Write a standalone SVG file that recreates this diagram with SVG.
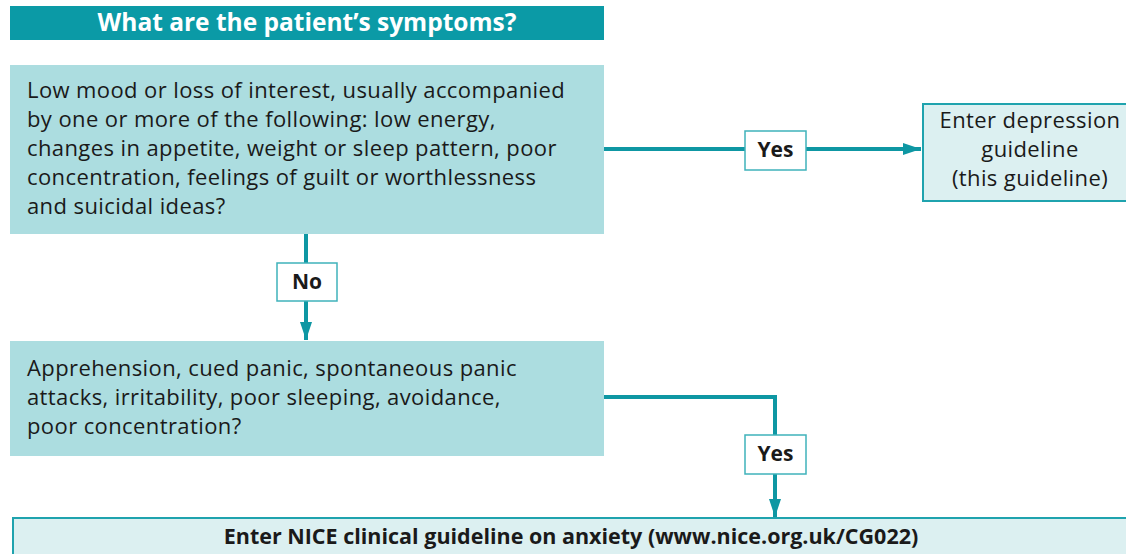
<svg xmlns="http://www.w3.org/2000/svg" width="1126" height="554" viewBox="0 0 1126 554">
<style>
.t{font-family:"Open Sans","Liberation Sans",sans-serif;font-size:22px;letter-spacing:0.4px;fill:#1a1a1a}
.b{font-weight:bold;letter-spacing:0}
.q{fill:#acdde0}
.lbl{fill:#ffffff;stroke:#3fb2bb;stroke-width:1.5}
.c{fill:none;stroke:#0e97a3;stroke-width:4}
.out{fill:#dcf0f1;stroke:#1fa3ae;stroke-width:2}
</style>
<defs>
<marker id="ah" markerWidth="20" markerHeight="14" refX="18" refY="7" orient="auto" markerUnits="userSpaceOnUse"><path d="M0,1 L18,7 L0,13 Z" fill="#0e97a3"/></marker>
</defs>
<rect width="1126" height="554" fill="#ffffff"/>
<g id="connectors">
<path class="c" d="M604,149 H745"/>
<path class="c" d="M806,149 H921" marker-end="url(#ah)"/>
<path class="c" d="M306,234 V263"/>
<path class="c" d="M306,301 V340" marker-end="url(#ah)"/>
<path class="c" d="M604,397 H775 V435"/>
<path class="c" d="M775,474 V517" marker-end="url(#ah)"/>
</g>
<g id="header">
<rect x="10" y="6" width="594" height="34" fill="#0b9aa6"/>
<text class="t b" x="307" y="31" text-anchor="middle" style="fill:#ffffff;font-size:24.5px">What are the patient’s symptoms?</text>
</g>
<g id="q1">
<rect class="q" x="10" y="65" width="594" height="169"/>
<text class="t" x="27" y="98">Low mood or loss of interest, usually accompanied</text>
<text class="t" x="27" y="127">by one or more of the following: low energy,</text>
<text class="t" x="27" y="156">changes in appetite, weight or sleep pattern, poor</text>
<text class="t" x="27" y="185">concentration, feelings of guilt or worthlessness</text>
<text class="t" x="27" y="214">and suicidal ideas?</text>
</g>
<g id="yes1">
<rect class="lbl" x="745" y="131" width="61" height="39"/>
<text class="t b" x="775.5" y="157" text-anchor="middle" style="font-size:21px">Yes</text>
</g>
<g id="depression">
<rect class="out" x="923" y="104" width="210" height="97"/>
<text class="t" x="1030" y="128" text-anchor="middle">Enter depression</text>
<text class="t" x="1030" y="157" text-anchor="middle">guideline</text>
<text class="t" x="1030" y="186" text-anchor="middle">(this guideline)</text>
</g>
<g id="no">
<rect class="lbl" x="277" y="263" width="60" height="38"/>
<text class="t b" x="307" y="289" text-anchor="middle" style="font-size:21px">No</text>
</g>
<g id="q2">
<rect class="q" x="10" y="341" width="594" height="115"/>
<text class="t" x="27" y="376">Apprehension, cued panic, spontaneous panic</text>
<text class="t" x="27" y="405">attacks, irritability, poor sleeping, avoidance,</text>
<text class="t" x="27" y="434">poor concentration?</text>
</g>
<g id="yes2">
<rect class="lbl" x="745" y="435" width="61" height="39"/>
<text class="t b" x="775.5" y="461" text-anchor="middle" style="font-size:21px">Yes</text>
</g>
<g id="anxiety">
<rect class="out" x="13" y="518" width="1120" height="40"/>
<text class="t b" x="571" y="544" text-anchor="middle" style="font-size:21.5px">Enter NICE clinical guideline on anxiety (www.nice.org.uk/CG022)</text>
</g>
</svg>
